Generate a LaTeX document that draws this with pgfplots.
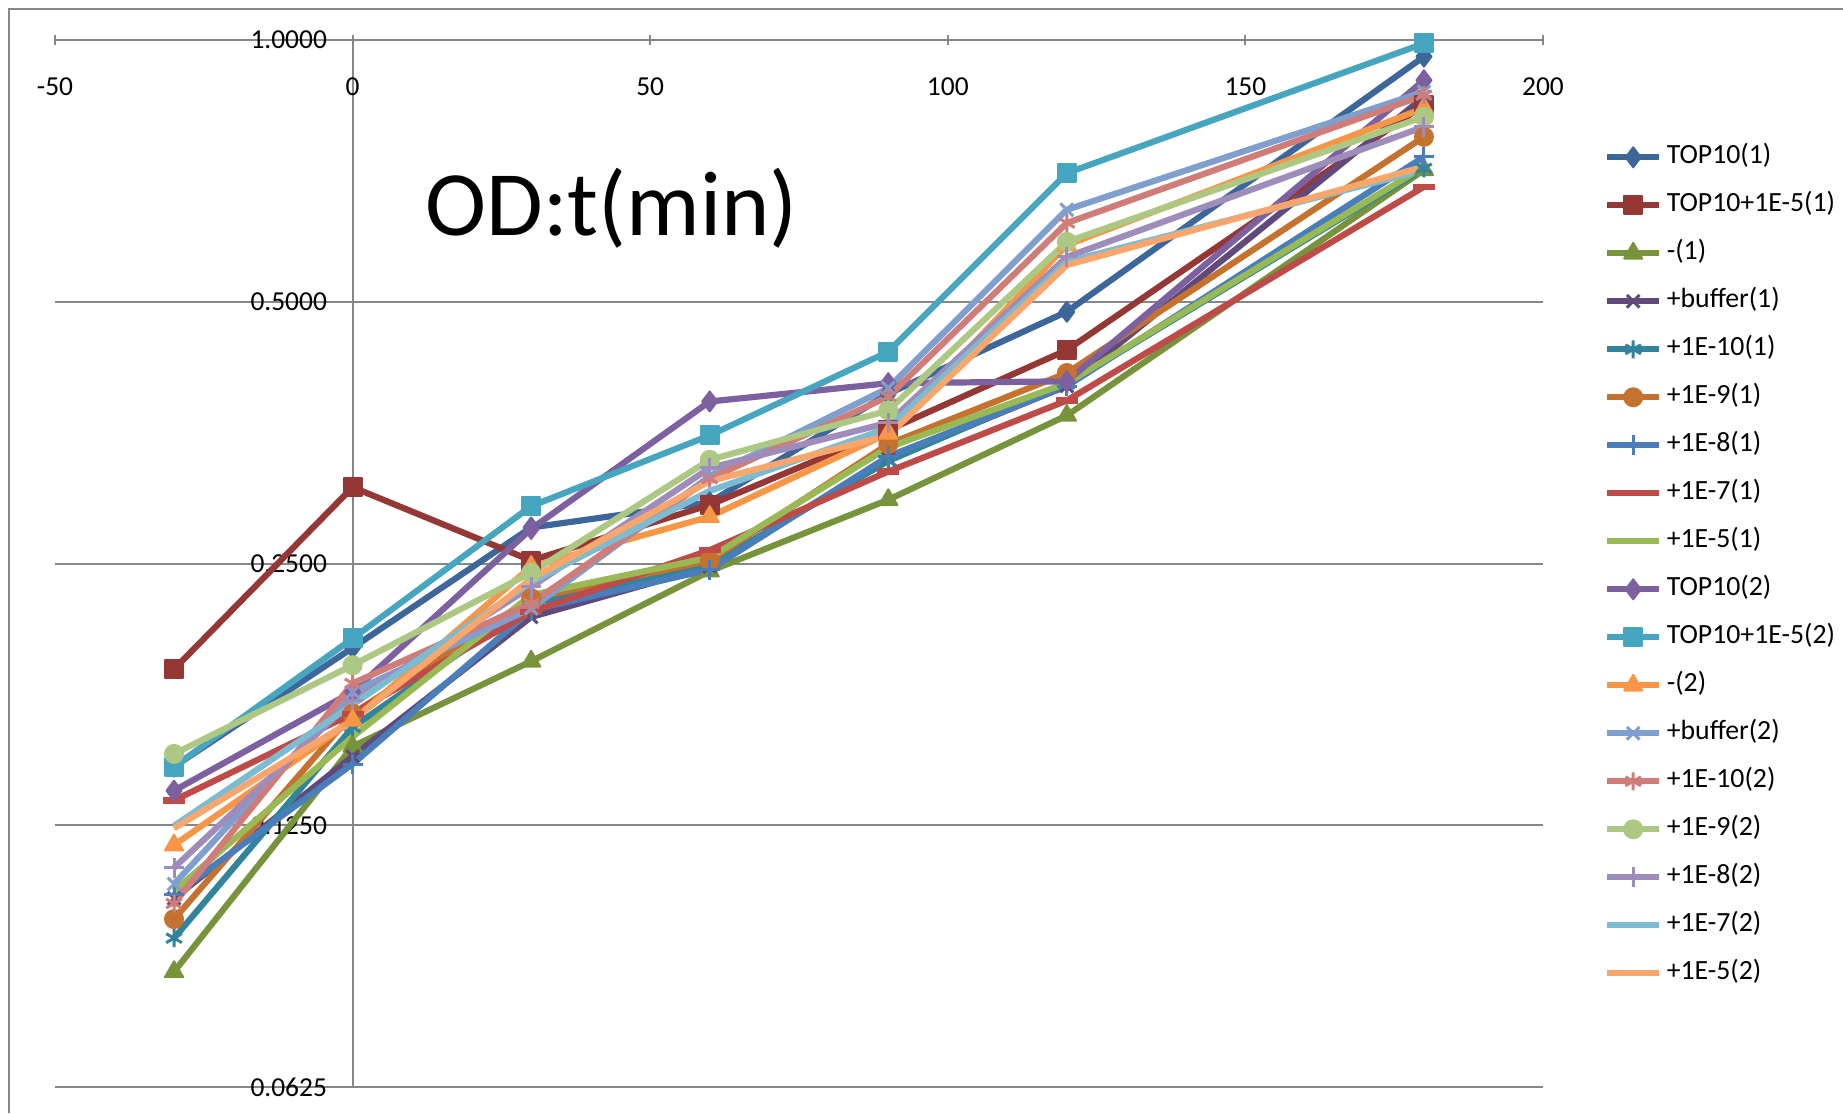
\documentclass[border=0pt]{standalone}
\usepackage{fontspec}
\setmainfont{Carlito}
\usepackage{pgfplots}
\pgfplotsset{compat=1.18}
\definecolor{sA}{HTML}{3D679A}
\definecolor{sB}{HTML}{953735}
\definecolor{sC}{HTML}{77933C}
\definecolor{sD}{HTML}{604A7B}
\definecolor{sE}{HTML}{31849B}
\definecolor{sF}{HTML}{C5722F}
\definecolor{sG}{HTML}{4A7EBB}
\definecolor{sH}{HTML}{BE4B48}
\definecolor{sI}{HTML}{98B954}
\definecolor{sJ}{HTML}{7D60A0}
\definecolor{sK}{HTML}{46A6C0}
\definecolor{sL}{HTML}{F79646}
\definecolor{sM}{HTML}{7F9FCF}
\definecolor{sN}{HTML}{D07C79}
\definecolor{sO}{HTML}{ADC882}
\definecolor{sP}{HTML}{9E8CBA}
\definecolor{sQ}{HTML}{7BBCD3}
\definecolor{sR}{HTML}{F8A66C}
\definecolor{axgray}{HTML}{878787}
\begin{document}
\begin{tikzpicture}
\path[use as bounding box] (0,0) rectangle (184.3mm,111.3mm);
\draw[axgray, line width=0.2mm] (0.9mm,0) -- (0.9mm,110.4mm) -- (184.3mm,110.4mm);
\begin{axis}[
  at={(5.5mm,2.6mm)}, anchor=south west,
  scale only axis, width=148.8mm, height=104.7mm,
  ymode=log, log basis y=2,
  xmin=-50, xmax=200, ymin=0.0625, ymax=1,
  enlargelimits=false, clip=false,
  axis lines=middle,
  axis line style={-, draw=axgray, line width=0.2mm},
  hide obscured x ticks=false, hide obscured y ticks=false,
  xtick={-50,0,50,100,150,200},
  xticklabels={-50,0,50,100,150,200},
  ytick={0.0625,0.125,0.25,0.5,1},
  yticklabels={0.0625,0.1250,0.2500,0.5000,1.0000},
  minor tick num=0,
  major tick length=1.0mm,
  tick style={draw=axgray, line width=0.2mm},
  ymajorgrids,
  major grid style={draw=axgray, line width=0.2mm},
  tick label style={font=\fontsize{7.8}{9}\selectfont},
  xticklabel style={anchor=north, inner sep=0pt, yshift=-3.2mm},
  yticklabel style={anchor=east, inner sep=0pt, xshift=-2.0mm},
  legend style={draw=none, fill=none, at={(1.0406,0.9006)}, anchor=north west,
    font=\fontsize{7.9}{9}\selectfont, row sep=2.3mm, column sep=0.45mm,
    inner sep=0pt, nodes={inner sep=0pt, text height=1.9mm, text depth=0.6mm}},
  legend cell align=left,
  legend image code/.code={\draw[mark repeat=2,mark phase=2] plot coordinates {(0mm,0mm) (2.6mm,0mm) (5.2mm,0mm)};},
  ln/.style={line width=0.62mm, line join=round},
  dmk/.style={ln, mark=diamond*, mark size=1.0mm, mark options={solid, line width=0.2mm}},
  smk/.style={ln, mark=square*, mark size=0.9mm, mark options={solid, line width=0.2mm}},
  tmk/.style={ln, mark=triangle*, mark size=1.05mm, mark options={solid, line width=0.2mm}},
  cmk/.style={ln, mark=*, mark size=0.9mm, mark options={solid, line width=0.2mm}},
  xmk/.style={ln, mark=x, mark size=0.9mm, mark options={solid, line width=0.3mm}},
  amk/.style={ln, mark=asterisk, mark size=0.9mm, mark options={solid, line width=0.3mm}},
  pmk/.style={ln, mark=+, mark size=1.0mm, mark options={solid, line width=0.3mm}},
]
\addplot[sA, dmk] coordinates {(-30,0.146) (0,0.200) (30,0.275) (60,0.294) (90,0.392) (120,0.487) (180,0.957)};
\addlegendentry{TOP10(1)}
\addplot[sB, smk] coordinates {(-30,0.189) (0,0.306) (30,0.252) (60,0.292) (90,0.356) (120,0.440) (180,0.842)};
\addlegendentry{TOP10+1E-5(1)}
\addplot[sC, tmk] coordinates {(-30,0.0848) (0,0.154) (30,0.193) (60,0.245) (90,0.296) (120,0.370) (180,0.709)};
\addlegendentry{-(1)}
\addplot[sD, xmk] coordinates {(-30,0.103) (0,0.150) (30,0.217) (60,0.248) (90,0.330) (120,0.400) (180,0.860)};
\addlegendentry{+buffer(1)}
\addplot[sE, amk] coordinates {(-30,0.0927) (0,0.162) (30,0.225) (60,0.249) (90,0.328) (120,0.402) (180,0.712)};
\addlegendentry{+1E-10(1)}
\addplot[sF, cmk] coordinates {(-30,0.0975) (0,0.168) (30,0.228) (60,0.252) (90,0.343) (120,0.414) (180,0.774)};
\addlegendentry{+1E-9(1)}
\addplot[sG, pmk] coordinates {(-30,0.104) (0,0.147) (30,0.221) (60,0.246) (90,0.332) (120,0.400) (180,0.734)};
\addlegendentry{+1E-8(1)}
\addplot[sH, ln, mark=-, mark size=1.1mm, mark options={solid}] coordinates {(-30,0.1335) (0,0.168) (30,0.220) (60,0.259) (90,0.319) (120,0.385) (180,0.678)};
\addlegendentry{+1E-7(1)}
\addplot[sI, ln, no marks] coordinates {(-30,0.105) (0,0.158) (30,0.230) (60,0.254) (90,0.340) (120,0.403) (180,0.715)};
\addlegendentry{+1E-5(1)}
\addplot[sJ, dmk] coordinates {(-30,0.137) (0,0.178) (30,0.274) (60,0.384) (90,0.403) (120,0.405) (180,0.899)};
\addlegendentry{TOP10(2)}
\addplot[sK, smk] coordinates {(-30,0.146) (0,0.205) (30,0.291) (60,0.351) (90,0.438) (120,0.703) (180,0.991)};
\addlegendentry{TOP10+1E-5(2)}
\addplot[sL, tmk] coordinates {(-30,0.1186) (0,0.165) (30,0.248) (60,0.283) (90,0.353) (120,0.581) (180,0.835)};
\addlegendentry{-(2)}
\addplot[sM, xmk] coordinates {(-30,0.107) (0,0.178) (30,0.222) (60,0.315) (90,0.398) (120,0.638) (180,0.872)};
\addlegendentry{+buffer(2)}
\addplot[sN, amk] coordinates {(-30,0.1016) (0,0.182) (30,0.225) (60,0.313) (90,0.389) (120,0.616) (180,0.864)};
\addlegendentry{+1E-10(2)}
\addplot[sO, cmk] coordinates {(-30,0.151) (0,0.191) (30,0.244) (60,0.329) (90,0.375) (120,0.586) (180,0.816)};
\addlegendentry{+1E-9(2)}
\addplot[sP, pmk] coordinates {(-30,0.1117) (0,0.174) (30,0.235) (60,0.322) (90,0.363) (120,0.563) (180,0.795)};
\addlegendentry{+1E-8(2)}
\addplot[sQ, ln, no marks] coordinates {(-30,0.1248) (0,0.172) (30,0.238) (60,0.303) (90,0.358) (120,0.556) (180,0.709)};
\addlegendentry{+1E-7(2)}
\addplot[sR, ln, no marks] coordinates {(-30,0.124) (0,0.165) (30,0.240) (60,0.311) (90,0.351) (120,0.551) (180,0.715)};
\addlegendentry{+1E-5(2)}
\end{axis}
\node[anchor=base west, inner sep=0pt, font=\fontsize{26.2}{30}\selectfont] at (42.5mm,87.8mm) {OD:t(min)};
\end{tikzpicture}
\end{document}
